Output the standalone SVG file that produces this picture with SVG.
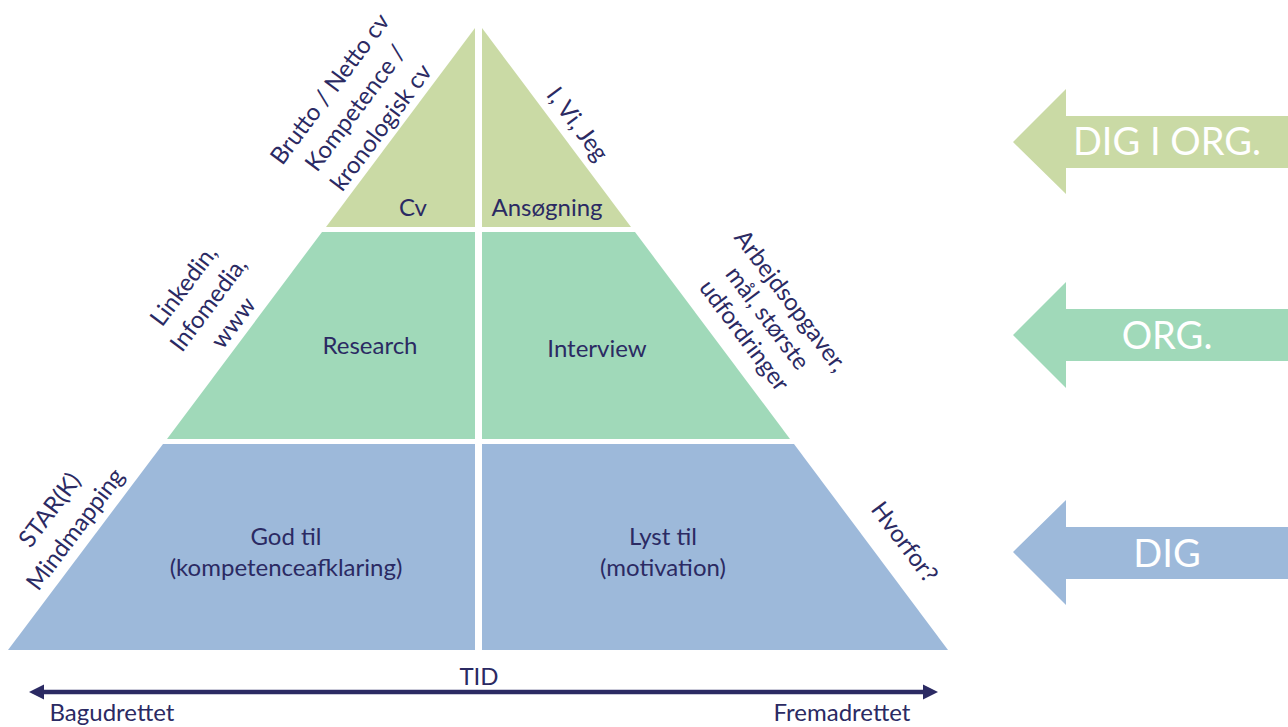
<svg xmlns="http://www.w3.org/2000/svg" width="1288" height="727" viewBox="0 0 1288 727">
<style>
.t{font-family:Lato,"Open Sans","Liberation Sans",sans-serif;font-size:24px;fill:#2B2A63;text-anchor:middle}
.a{font-family:Lato,"Open Sans","Liberation Sans",sans-serif;font-size:38px;fill:#FFFFFF;text-anchor:middle}
.g1{fill:#CADAA5}.g2{fill:#A0D9B9}.g3{fill:#9DB9DA}
</style>
<rect width="1288" height="727" fill="#FFFFFF"/>
<g id="cv"><polygon class="g1" points="475,28 475,227 326,227"/><text class="t" x="413" y="216">Cv</text></g>
<g id="ansogning"><polygon class="g1" points="482,28 631,227 482,227"/><text class="t" x="547" y="216">Ansøgning</text></g>
<g id="research"><polygon class="g2" points="322,232 475,232 475,439 167,439"/><text class="t" x="370" y="354">Research</text></g>
<g id="interview"><polygon class="g2" points="482,232 635,232 790,439 482,439"/><text class="t" x="597" y="357">Interview</text></g>
<g id="godtil"><polygon class="g3" points="163,444 475,444 475,650 8,650"/><text class="t" x="286" y="545">God til</text><text class="t" x="286" y="576">(kompetenceafklaring)</text></g>
<g id="lysttil"><polygon class="g3" points="482,444 794,444 948,650 482,650"/><text class="t" x="663" y="545">Lyst til</text><text class="t" x="663" y="576">(motivation)</text></g>
<g id="note-cv"><text class="t" transform="translate(362,113) rotate(-53.13)"><tspan x="0" y="-32">Brutto / Netto cv</tspan><tspan x="0" y="0">Kompetence /</tspan><tspan x="0" y="32">kronologisk cv</tspan></text></g>
<g id="note-ansogning"><text class="t" transform="translate(571,129) rotate(53.13)">I, Vi, Jeg</text></g>
<g id="note-research"><text class="t" transform="translate(215,309) rotate(-53.13)"><tspan x="0" y="-31">Linkedin,</tspan><tspan x="0" y="0">Infomedia,</tspan><tspan x="0" y="31">www</tspan></text></g>
<g id="note-interview"><text class="t" transform="translate(761,323) rotate(53.13)"><tspan x="0" y="-29">Arbejdsopgaver,</tspan><tspan x="0" y="0">mål, største</tspan><tspan x="0" y="29">udfordringer</tspan></text></g>
<g id="note-godtil"><text class="t" transform="translate(69,524.5) rotate(-53.13)"><tspan x="0" y="-16">STAR(K)</tspan><tspan x="0" y="16">Mindmapping</tspan></text></g>
<g id="note-lysttil"><text class="t" transform="translate(898,547) rotate(53.13)">Hvorfor?</text></g>
<g id="arrow-dig-i-org"><polygon class="g1" points="1013,142 1066,89 1066,116 1288,116 1288,168 1066,168 1066,194"/><text class="a" x="1167" y="155">DIG I ORG.</text></g>
<g id="arrow-org"><polygon class="g2" points="1013,335 1066,282 1066,309 1288,309 1288,361 1066,361 1066,388"/><text class="a" x="1167" y="349">ORG.</text></g>
<g id="arrow-dig"><polygon class="g3" points="1013,552 1066,500 1066,527 1288,527 1288,579 1066,579 1066,605"/><text class="a" x="1167" y="567">DIG</text></g>
<g id="connectors">
<line x1="42" y1="692" x2="925" y2="692" stroke="#2B2A63" stroke-width="4.5"/>
<polygon points="29,692 44,684.5 44,699.5" fill="#2B2A63"/>
<polygon points="938,692 923,684.5 923,699.5" fill="#2B2A63"/>
</g>
<text class="t" x="479" y="685">TID</text>
<text class="t" x="112" y="721">Bagudrettet</text>
<text class="t" x="842" y="721">Fremadrettet</text>
</svg>
